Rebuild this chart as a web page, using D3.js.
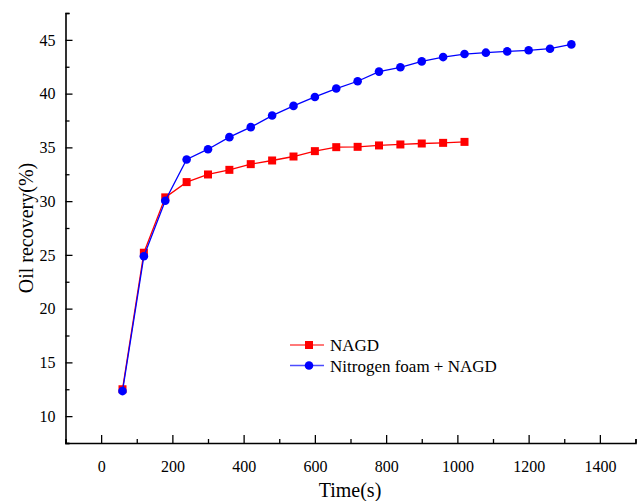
<!doctype HTML>
<html>
<head>
    <style>
        body { margin: 0; background: #fff; }
        svg text { font-family: "Liberation Serif", "Times New Roman", serif !important; }
    </style>
    <script src="https://d3js.org/d3.v7.min.js"></script>
</head>
<body>
<div id="chart"></div>
<script>

    // data
    var timeNAGD = [60, 120, 180, 240, 300, 360, 420, 480, 540, 600, 660, 720, 780, 840, 900, 960, 1020];
    var recoveryNAGD = [12.5, 25.2, 30.35, 31.77, 32.48, 32.91, 33.44, 33.78, 34.15, 34.65, 35.02, 35.05, 35.18, 35.27, 35.36, 35.42, 35.51];

    var timeFoam = [60, 120, 180, 240, 300, 360, 420, 480, 540, 600, 660, 720, 780, 840, 900, 960, 1020, 1080, 1140, 1200, 1260, 1320];
    var recoveryFoam = [12.33, 24.87, 30.03, 33.87, 34.83, 35.95, 36.88, 37.96, 38.86, 39.69, 40.47, 41.15, 42.05, 42.45, 43.0, 43.4, 43.68, 43.81, 43.93, 44.03, 44.18, 44.58];

    var xTicks = [0, 200, 400, 600, 800, 1000, 1200, 1400];
    var yTicks = [10, 15, 20, 25, 30, 35, 40, 45];
    var seriesNames = ["NAGD", "Nitrogen foam + NAGD"];

    var canvasWidth = 638;
    var canvasHeight = 501;

    var svg = d3.select("#chart").append("svg")
        .attr("width", canvasWidth)
        .attr("height", canvasHeight);

    var x = d3.scaleLinear().domain([-100, 1500]).range([65.5, 635.5]);
    var y = d3.scaleLinear().domain([7.5, 47.5]).range([443, 13]);

    // minor ticks halfway between the majors
    var xMinor = d3.range(-100, 1501, 200);
    var yMinor = d3.range(7.5, 47.6, 5);

    var xAxisG = svg.append("g").attr("transform", "translate(0," + y.range()[0] + ")");
    xAxisG.call(d3.axisBottom(x).tickValues(xMinor).tickSize(-4).tickFormat(""));
    xAxisG.append("g").call(d3.axisBottom(x).tickValues(xTicks).tickSize(-8).tickPadding(18).tickFormat(d3.format("d")));

    var yAxisG = svg.append("g").attr("transform", "translate(" + x.range()[0] + ",0)");
    yAxisG.call(d3.axisLeft(y).tickValues(yMinor).tickSize(-4).tickFormat(""));
    yAxisG.append("g").call(d3.axisLeft(y).tickValues(yTicks).tickSize(-7).tickPadding(10).tickFormat(d3.format("d")));

    svg.selectAll("g").attr("font-family", null);
    svg.selectAll(".domain").attr("stroke", "#000").attr("stroke-width", 1.6);
    svg.selectAll(".tick line").attr("stroke", "#000").attr("stroke-width", 1.3);
    svg.selectAll(".tick text")
        .style("font-family", "'Liberation Serif', serif")
        .attr("font-size", "16px")
        .attr("fill", "#000");
    // inner axis groups draw their own domain path; hide the duplicate
    xAxisG.selectAll("g > g .domain").attr("stroke", "none");
    yAxisG.selectAll("g > g .domain").attr("stroke", "none");

    // axis titles
    svg.append("text")
        .attr("x", 350)
        .attr("y", 497)
        .attr("text-anchor", "middle")
        .attr("font-size", "20px")
        .text("Time(s)");

    svg.append("text")
        .attr("transform", "translate(33, 228) rotate(-90)")
        .attr("text-anchor", "middle")
        .attr("font-size", "20px")
        .text("Oil recovery(%)");

    var nagd = timeNAGD.map(function(t, i) { return {t: t, v: recoveryNAGD[i]}; });
    var foam = timeFoam.map(function(t, i) { return {t: t, v: recoveryFoam[i]}; });

    var line = d3.line().x(function(d) { return x(d.t); }).y(function(d) { return y(d.v); });

    svg.append("path").datum(nagd)
        .attr("d", line)
        .attr("fill", "none")
        .attr("stroke", "#ff0000")
        .attr("stroke-width", 1.3);

    svg.append("g").selectAll("rect")
        .data(nagd)
        .join("rect")
        .attr("x", function(d) { return x(d.t) - 4; })
        .attr("y", function(d) { return y(d.v) - 4; })
        .attr("width", 8)
        .attr("height", 8)
        .attr("fill", "#ff0000");

    svg.append("path").datum(foam)
        .attr("d", line)
        .attr("fill", "none")
        .attr("stroke", "#0000ff")
        .attr("stroke-width", 1.3);

    svg.append("g").selectAll("circle")
        .data(foam)
        .join("circle")
        .attr("cx", function(d) { return x(d.t); })
        .attr("cy", function(d) { return y(d.v); })
        .attr("r", 4.3)
        .attr("fill", "#0000ff");

    // legend
    var legend = svg.append("g").attr("transform", "translate(290, 345)");
    var legendColors = ["#ff0000", "#0000ff"];
    seriesNames.forEach(function(name, i) {
        var row = legend.append("g").attr("transform", "translate(0," + (i * 20.5) + ")");
        row.append("line")
            .attr("x1", 0).attr("x2", 34)
            .attr("stroke", legendColors[i])
            .attr("stroke-opacity", 0.7)
            .attr("stroke-width", 1.3);
        if (i === 0) {
            row.append("rect").attr("x", 15).attr("y", -4).attr("width", 8).attr("height", 8).attr("fill", legendColors[i]);
        } else {
            row.append("circle").attr("cx", 19).attr("r", 4.3).attr("fill", legendColors[i]);
        }
        row.append("text")
            .attr("x", 40)
            .attr("y", 6)
            .attr("font-size", "17px")
            .text(name);
    });

</script>
</body>
</html>
